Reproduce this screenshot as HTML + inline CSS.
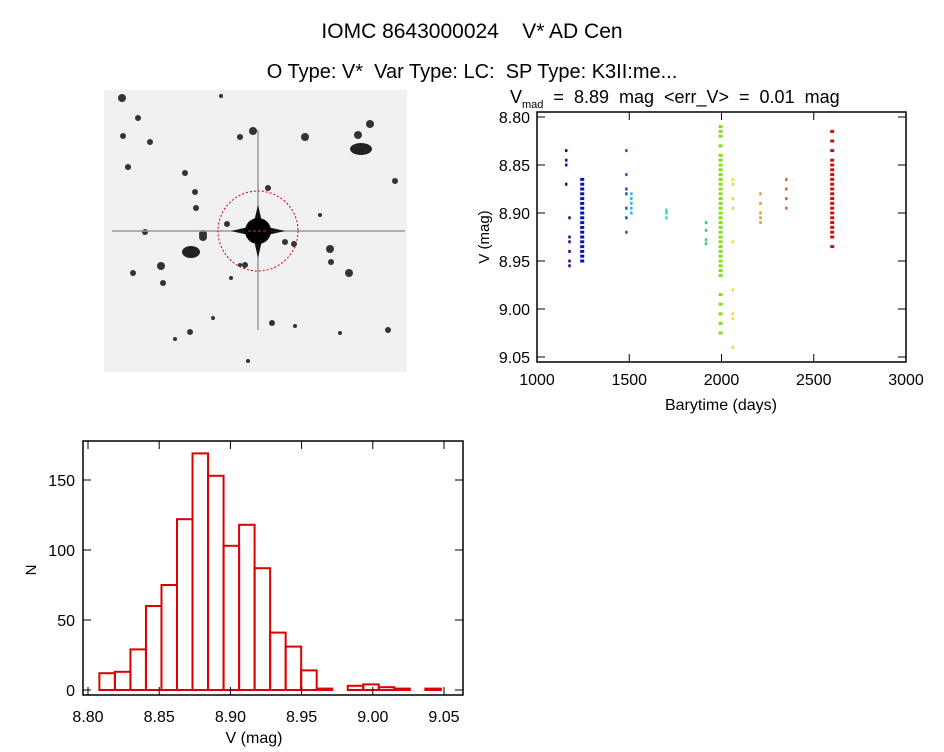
<!DOCTYPE html>
<html><head><meta charset="utf-8"><style>
body{margin:0;background:#fff;}
svg text{font-family:"Liberation Sans",sans-serif;fill:#000;white-space:pre;}
</style></head><body>
<svg id="s" width="944" height="747" xmlns="http://www.w3.org/2000/svg">
<rect width="944" height="747" fill="#fff"/>
<text x="472" y="38" font-size="21" text-anchor="middle" xml:space="preserve">IOMC 8643000024    V* AD Cen</text>
<text x="472" y="78" font-size="20" text-anchor="middle" xml:space="preserve">O Type: V*  Var Type: LC:  SP Type: K3II:me...</text>
<g id="img">
<rect x="104" y="90" width="303" height="282" fill="#f1f1f1"/>
</g>
<g id="lc"></g>
<g id="hist"></g>
</svg>
<script>
const NS="http://www.w3.org/2000/svg";
function mk(p,t,a){const e=document.createElementNS(NS,t);for(const k in a)e.setAttribute(k,a[k]);p.appendChild(e);return e;}
// ---- star field ----
const starX=[122,138,123,150,221,253,240,305,358,370,367,128,185,195,268,196,227,203,285,161,190,330,349,331,294,245,133,163,240,320,395,231,272,295,388,213,190,248,340,175,203,145];
const starY=[98,118,136,142,96,131,137,137,135,124,150,167,173,192,188,208,224,234,242,266,250,249,273,262,244,265,273,283,265,215,181,278,323,326,330,318,332,361,333,339,237,232];
const starR=[4,3,3,3,2,4,3,4,4,4,3,3,3,3,3,3,3,4,3,4,3,4,4,3,3,3,3,3,2,2,3,2,3,2,3,2,3,2,2,2,4,3];
const img=document.getElementById('img');
for(let i=0;i<starX.length;i++){const c=mk(img,'circle',{cx:starX[i],cy:starY[i],r:starR[i],fill:'#333'});

}
mk(img,'ellipse',{cx:191,cy:252,rx:9,ry:6,fill:'#222'});
mk(img,'ellipse',{cx:361,cy:149,rx:11,ry:6,fill:'#222'});
mk(img,'line',{x1:112,y1:231,x2:405,y2:231,stroke:'#999','stroke-width':1.5});
mk(img,'line',{x1:258,y1:130,x2:258,y2:330,stroke:'#999','stroke-width':1.5});
mk(img,'path',{d:'M258 205 L263 226 L285 231 L263 236 L258 258 L253 236 L231 231 L253 226Z',fill:'#111'});
mk(img,'circle',{cx:258,cy:231,r:13,fill:'#000'});
mk(img,'circle',{cx:258,cy:231,r:40,fill:'none',stroke:'#c00','stroke-dasharray':'2 2'});
mk(img,'line',{x1:248,y1:231,x2:268,y2:231,stroke:'#c33','stroke-dasharray':'3 2'});
// ---- light curve ----
const lcTicksX=[1000,1500,2000,2500,3000];
const lcTicksY=[8.80,8.85,8.90,8.95,9.00,9.05];
const seasonTime=[1157,1175,1245,1483,1510,1700,1915,1995,2060,2210,2350,2600];
const seasonColor=['#3a0a6a','#3a0a6a','#0018c0','#1060c0','#30b8e0','#30e0c0','#30d070','#80e010','#e8e030','#e0a030','#e06030','#d01010'];
const seasonMags=[
[8.835,8.845,8.85,8.87],
[8.905,8.925,8.93,8.94,8.95,8.955],
[8.865,8.87,8.875,8.88,8.885,8.89,8.895,8.90,8.905,8.91,8.915,8.92,8.925,8.93,8.935,8.94,8.945,8.95],
[8.835,8.86,8.875,8.88,8.895,8.905,8.92],
[8.895,8.89,8.9,8.885,8.88],
[8.897,8.9,8.905,8.9],
[8.91,8.918,8.928,8.932],
[8.81,8.815,8.82,8.83,8.84,8.845,8.85,8.855,8.86,8.865,8.87,8.875,8.88,8.885,8.89,8.895,8.9,8.905,8.91,8.915,8.92,8.925,8.93,8.935,8.94,8.945,8.95,8.955,8.96,8.965,8.985,8.995,9.005,9.015,9.025],
[8.865,8.87,8.885,8.895,8.93,8.98,9.005,9.01,9.04],
[8.88,8.89,8.9,8.905,8.91],
[8.865,8.875,8.885,8.895],
[8.815,8.825,8.835,8.845,8.85,8.855,8.86,8.865,8.87,8.875,8.88,8.885,8.89,8.895,8.9,8.905,8.91,8.915,8.92,8.925,8.935]];
const L={x0:537,x1:906,y0:112,y1:362};
const lx=t=>537+(t-1000)/2000*369;
const ly=m=>117+(m-8.80)/0.25*240;
const lc=document.getElementById('lc');
for(let s=0;s<seasonTime.length;s++){
 const dense=seasonMags[s].length>15;
 for(const m of seasonMags[s]){
  const p=mk(lc,'rect',{x:lx(seasonTime[s])-(dense?2:1),y:ly(m)-1.5,width:dense?4:2.5,height:3,fill:seasonColor[s]});
  
  
 }
}
mk(lc,'rect',{x:L.x0,y:L.y0,width:L.x1-L.x0,height:L.y1-L.y0,fill:'none',stroke:'#000','stroke-width':1.5});
for(const t of lcTicksX){const x=lx(t);mk(lc,'line',{x1:x,y1:L.y1,x2:x,y2:L.y1-8,stroke:'#000'});mk(lc,'line',{x1:x,y1:L.y0,x2:x,y2:L.y0+8,stroke:'#000'});
 const tx=mk(lc,'text',{x:x,y:L.y1+23,'font-size':16,'text-anchor':'middle'});tx.textContent=t;
 
 }
for(const m of lcTicksY){const y=ly(m);mk(lc,'line',{x1:L.x0,y1:y,x2:L.x0+8,y2:y,stroke:'#000'});mk(lc,'line',{x1:L.x1,y1:y,x2:L.x1-8,y2:y,stroke:'#000'});
 const tx=mk(lc,'text',{x:L.x0-7,y:y+6,'font-size':16,'text-anchor':'end'});tx.textContent=m.toFixed(2);
 
 }
let t=mk(lc,'text',{x:721,y:410,'font-size':16,'text-anchor':'middle'});t.textContent='Barytime (days)';


t=mk(lc,'text',{x:0,y:0,'font-size':15,'text-anchor':'middle',transform:'translate(489,237) rotate(-90)'});t.textContent='V (mag)';


t=mk(lc,'text',{x:510,y:103,'font-size':18});t.innerHTML='V<tspan font-size="11" dy="5">mad</tspan><tspan dy="-5">  =  8.89  mag  &lt;err_V&gt;  =  0.01  mag</tspan>';


// ---- histogram ----
const binStart=[8.808,8.8189,8.8298,8.8407,8.8516,8.8625,8.8734,8.8843,8.8952,8.9061,8.917,8.9279,8.9388,8.9497,8.9606,8.9715,8.9824,8.9933,9.0042,9.0151,9.026,9.0369];
const binCount=[12,13,29,60,75,122,169,153,103,118,87,41,31,14,1,0,3,4,2,1,0,1];
const hTicksX=[8.80,8.85,8.90,8.95,9.00,9.05];
const hTicksY=[0,50,100,150];
const binW=0.0109;
const H={x0:83,x1:463,y0:441,y1:695};
const hx=v=>88+(v-8.80)/0.25*356;
const hy=n=>690-n*1.4;
const hg=document.getElementById('hist');
for(let i=0;i<binStart.length;i++){
 const b=mk(hg,'rect',{x:hx(binStart[i]),y:hy(binCount[i]),width:hx(binStart[i]+binW)-hx(binStart[i]),height:binCount[i]*1.4,fill:'none',stroke:'#d00','stroke-width':2});
 
 
}
mk(hg,'rect',{x:H.x0,y:H.y0,width:H.x1-H.x0,height:H.y1-H.y0,fill:'none',stroke:'#000','stroke-width':1.5});
for(const v of hTicksX){const x=hx(v);mk(hg,'line',{x1:x,y1:H.y1,x2:x,y2:H.y1-8,stroke:'#000'});mk(hg,'line',{x1:x,y1:H.y0,x2:x,y2:H.y0+8,stroke:'#000'});
 const tx=mk(hg,'text',{x:x,y:H.y1+27,'font-size':16,'text-anchor':'middle'});tx.textContent=v.toFixed(2);
 
 }
for(const n of hTicksY){const y=hy(n);mk(hg,'line',{x1:H.x0,y1:y,x2:H.x0+8,y2:y,stroke:'#000'});mk(hg,'line',{x1:H.x1,y1:y,x2:H.x1-8,y2:y,stroke:'#000'});
 const tx=mk(hg,'text',{x:H.x0-8,y:y+6,'font-size':16,'text-anchor':'end'});tx.textContent=n;
 
 }
t=mk(hg,'text',{x:254,y:743,'font-size':16,'text-anchor':'middle'});t.textContent='V (mag)';


t=mk(hg,'text',{x:0,y:0,'font-size':15,'text-anchor':'middle',transform:'translate(36,570) rotate(-90)'});t.textContent='N';


</script>
</body></html>
